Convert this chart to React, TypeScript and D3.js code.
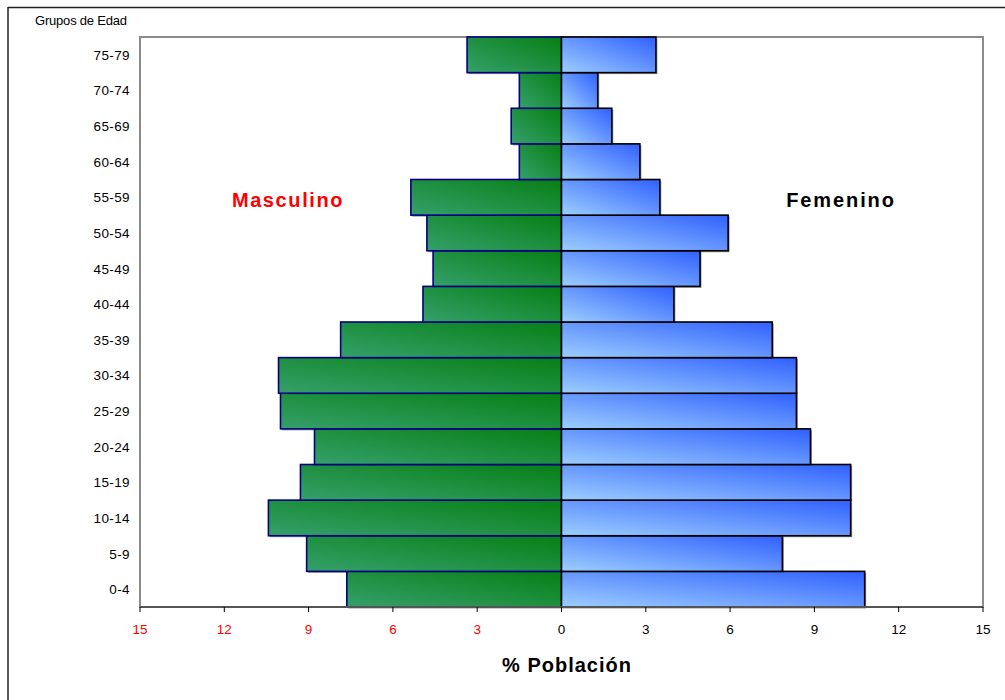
import React from "react";
import * as d3 from "d3";

// Age groups, youngest first
const ageGroups = [
  "0-4", "5-9", "10-14", "15-19", "20-24", "25-29", "30-34", "35-39",
  "40-44", "45-49", "50-54", "55-59", "60-64", "65-69", "70-74", "75-79",
];
// Percentage of population by age group
const maleValues = [
  7.64, 9.07, 10.43, 9.29, 8.79, 10.0, 10.07, 7.86,
  4.93, 4.57, 4.79, 5.36, 1.5, 1.79, 1.5, 3.36,
];
const femaleValues = [
  10.79, 7.86, 10.29, 10.29, 8.86, 8.36, 8.36, 7.5,
  4.0, 4.93, 5.93, 3.5, 2.79, 1.79, 1.29, 3.36,
];
const xTicks = [-15, -12, -9, -6, -3, 0, 3, 6, 9, 12, 15];

const W = 1005;
const H = 700;
const plot = { left: 140, right: 983, top: 37, bottom: 607 };
const FONT = "'Liberation Sans', Arial, sans-serif";

export default function App() {
  const x = d3.scaleLinear().domain([-15, 15]).range([plot.left, plot.right]);
  const y = d3
    .scaleBand<string>()
    .domain([...ageGroups].reverse())
    .range([plot.top, plot.bottom])
    .paddingInner(0)
    .paddingOuter(0);
  const bw = y.bandwidth();

  return (
    <svg
      width={W}
      height={H}
      style={{ position: "absolute", left: 0, top: 0, fontFamily: FONT }}
    >
      <defs>
        <linearGradient id="gMale" x1="0" y1="1" x2="1" y2="0">
          <stop offset="0%" stopColor="#35a06b" />
          <stop offset="100%" stopColor="#077f14" />
        </linearGradient>
        <linearGradient id="gFemale" x1="0" y1="1" x2="1" y2="0">
          <stop offset="0%" stopColor="#9cceff" />
          <stop offset="100%" stopColor="#3060ff" />
        </linearGradient>
      </defs>
      <rect x={0} y={0} width={W} height={H} fill="#fff" />
      {/* chart frame */}
      <line x1={8} y1={7.5} x2={W} y2={7.5} stroke="#222" strokeWidth={1.5} />
      <line x1={8} y1={7} x2={8} y2={H} stroke="#222" strokeWidth={1.5} />

      {/* plot area border */}
      <rect
        x={plot.left}
        y={plot.top}
        width={plot.right - plot.left}
        height={plot.bottom - plot.top}
        fill="none"
        stroke="#8c8c8c"
        strokeWidth={2}
      />

      {/* bar shadows */}
      {ageGroups.map((g, i) => (
        <g key={"s" + g} fill="#9a9a9a">
          <rect
            x={x(-maleValues[i]) + 1.5}
            y={(y(g) as number) + 1.5}
            width={x(0) - x(-maleValues[i])}
            height={bw}
          />
          <rect
            x={x(0) + 1.5}
            y={(y(g) as number) + 1.5}
            width={x(femaleValues[i]) - x(0)}
            height={bw}
          />
        </g>
      ))}

      {/* male bars */}
      {ageGroups.map((g, i) => (
        <rect
          key={"m" + g}
          x={x(-maleValues[i])}
          y={y(g)}
          width={x(0) - x(-maleValues[i])}
          height={bw}
          fill="url(#gMale)"
          stroke="#000080"
          strokeWidth={1.6}
        />
      ))}
      {/* female bars */}
      {ageGroups.map((g, i) => (
        <rect
          key={"f" + g}
          x={x(0)}
          y={y(g)}
          width={x(femaleValues[i]) - x(0)}
          height={bw}
          fill="url(#gFemale)"
          stroke="#000"
          strokeWidth={1.6}
        />
      ))}

      {/* x axis */}
      <line
        x1={plot.left}
        x2={plot.right}
        y1={plot.bottom}
        y2={plot.bottom}
        stroke="#555"
        strokeWidth={2}
      />
      {xTicks.map((t) => (
        <g key={"t" + t}>
          <line
            x1={x(t)}
            x2={x(t)}
            y1={plot.bottom}
            y2={plot.bottom + 5}
            stroke="#000"
            strokeWidth={1}
          />
          <text
            x={x(t)}
            y={634}
            textAnchor="middle"
            fontSize={13.5}
            fill={t < 0 ? "#ff0000" : "#000"}
          >
            {Math.abs(t)}
          </text>
        </g>
      ))}

      {/* y labels */}
      {ageGroups.map((g) => (
        <text
          key={"y" + g}
          x={130}
          y={(y(g) as number) + bw / 2 + 5}
          textAnchor="end"
          fontSize={13.5}
          letterSpacing={0.4}
          fill="#000"
        >
          {g}
        </text>
      ))}

      <text x={35} y={25} fontSize={13} letterSpacing={-0.2} fill="#000">
        Grupos de Edad
      </text>
      <text
        x={288}
        y={207}
        textAnchor="middle"
        fontSize={20}
        fontWeight="bold"
        letterSpacing={1.6}
        fill="#ff0000"
      >
        Masculino
      </text>
      <text
        x={841}
        y={207}
        textAnchor="middle"
        fontSize={20}
        fontWeight="bold"
        letterSpacing={1.9}
        fill="#000"
      >
        Femenino
      </text>
      <text
        x={567}
        y={672}
        textAnchor="middle"
        fontSize={20}
        fontWeight="bold"
        letterSpacing={1}
        fill="#000"
      >
        % Población
      </text>
    </svg>
  );
}
